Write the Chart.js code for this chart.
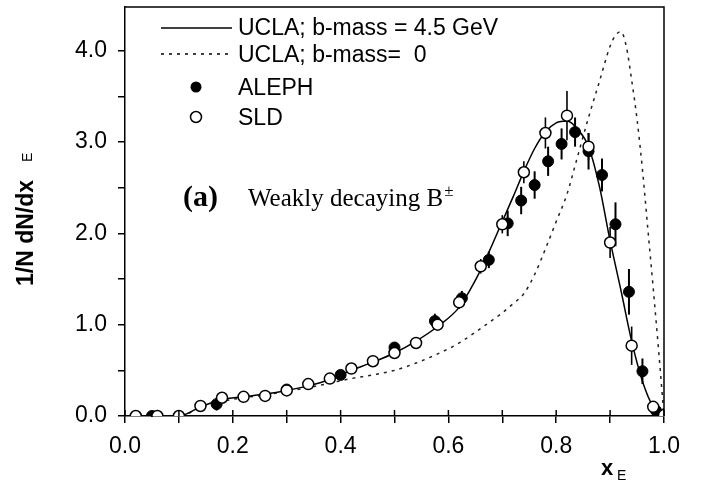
<!DOCTYPE html>
<html>
<head>
<meta charset="utf-8">
<script src="https://cdn.jsdelivr.net/npm/chart.js@4.4.1/dist/chart.umd.min.js"></script>
<style>
  body { margin: 0; background: #fff; }
</style>
</head>
<body>
<canvas id="xeChart" width="708" height="483"></canvas>
<script>
// Axis ticks and labels
const xTicks = [0.0, 0.1, 0.2, 0.3, 0.4, 0.5, 0.6, 0.7, 0.8, 0.9, 1.0];
const xTickLabels = ['0.0', '', '0.2', '', '0.4', '', '0.6', '', '0.8', '', '1.0'];
const yTicks = [0.0, 0.5, 1.0, 1.5, 2.0, 2.5, 3.0, 3.5, 4.0];
const yTickLabels = ['0.0', '', '1.0', '', '2.0', '', '3.0', '', '4.0'];

// Series names
const seriesNames = ['UCLA; b-mass = 4.5 GeV', 'UCLA; b-mass=  0', 'ALEPH', 'SLD'];

// UCLA, b-mass = 4.5 GeV (solid)
const uclaMassX = [0, 0.10, 0.14, 0.18, 0.22, 0.26, 0.30, 0.34, 0.38, 0.42, 0.46, 0.50, 0.54, 0.58, 0.62, 0.64, 0.66, 0.68, 0.70, 0.72, 0.74, 0.76, 0.78, 0.80, 0.82, 0.84, 0.86, 0.88, 0.90, 0.92, 0.94, 0.96, 0.98, 1.00];
const uclaMassY = [0, 0, 0.10, 0.18, 0.21, 0.24, 0.28, 0.33, 0.40, 0.50, 0.59, 0.69, 0.82, 0.98, 1.19, 1.38, 1.60, 1.86, 2.13, 2.40, 2.68, 2.93, 3.11, 3.21, 3.23, 3.14, 2.95, 2.52, 1.92, 1.38, 0.82, 0.38, 0.10, 0];

// UCLA, b-mass = 0 (dotted)
const uclaZeroX = [0, 0.10, 0.14, 0.18, 0.22, 0.26, 0.30, 0.34, 0.38, 0.42, 0.46, 0.50, 0.54, 0.58, 0.62, 0.66, 0.70, 0.72, 0.74, 0.76, 0.78, 0.80, 0.82, 0.84, 0.86, 0.88, 0.90, 0.91, 0.92, 0.93, 0.94, 0.95, 0.96, 0.97, 0.98, 0.99, 1.00];
const uclaZeroY = [0, 0, 0.09, 0.16, 0.20, 0.23, 0.27, 0.31, 0.36, 0.41, 0.45, 0.50, 0.58, 0.68, 0.80, 0.96, 1.13, 1.23, 1.34, 1.55, 1.83, 2.13, 2.43, 2.85, 3.27, 3.66, 4.05, 4.17, 4.21, 4.05, 3.68, 3.25, 2.70, 2.05, 1.40, 0.72, 0];

// ALEPH (filled circles)
const alephX = [0.05, 0.17, 0.30, 0.40, 0.50, 0.575, 0.625, 0.675, 0.71, 0.735, 0.76, 0.785, 0.81, 0.835, 0.86, 0.885, 0.91, 0.935, 0.96, 0.985];
const alephY = [0.0, 0.13, 0.29, 0.45, 0.75, 1.04, 1.29, 1.71, 2.11, 2.36, 2.53, 2.79, 2.98, 3.11, 2.90, 2.64, 2.10, 1.36, 0.49, 0.06];
const alephErr = [0.01, 0.07, 0.04, 0.04, 0.06, 0.08, 0.08, 0.09, 0.14, 0.15, 0.15, 0.16, 0.17, 0.16, 0.20, 0.18, 0.24, 0.25, 0.14, 0.05];

// SLD (open circles)
const sldX = [0.02, 0.06, 0.10, 0.14, 0.18, 0.22, 0.26, 0.30, 0.34, 0.38, 0.42, 0.46, 0.50, 0.54, 0.58, 0.62, 0.66, 0.70, 0.74, 0.78, 0.82, 0.86, 0.90, 0.94, 0.98, 1.00];
const sldY = [0.0, 0.0, 0.0, 0.11, 0.20, 0.21, 0.22, 0.28, 0.35, 0.41, 0.52, 0.60, 0.69, 0.80, 1.00, 1.245, 1.64, 2.10, 2.67, 3.10, 3.29, 2.95, 1.90, 0.77, 0.10, 0.01];
const sldErr = [0, 0, 0, 0.02, 0.02, 0.02, 0.02, 0.02, 0.02, 0.03, 0.03, 0.03, 0.04, 0.05, 0.06, 0.07, 0.08, 0.10, 0.12, 0.17, 0.27, 0.15, 0.17, 0.21, 0.05, 0];

function toPoints(xs, ys) {
    return xs.map((x, i) => ({ x: x, y: ys[i] }));
}

const sansFont = '"Liberation Sans", Arial, sans-serif';
const serifFont = '"Liberation Serif", "Times New Roman", serif';
const dotDash = [3, 5];

// Error bars, drawn under the markers
const errorBars = {
    id: 'errorBars',
    beforeDatasetsDraw(chart) {
        const { ctx, scales: { x, y } } = chart;
        ctx.save();
        ctx.strokeStyle = '#000';
        const sets = [[alephX, alephY, alephErr, 2], [sldX, sldY, sldErr, 1.6]];
        sets.forEach(([xs, ys, es, w]) => {
            ctx.lineWidth = w;
            xs.forEach((v, i) => {
                if (!es[i]) return;
                const px = x.getPixelForValue(v);
                ctx.beginPath();
                ctx.moveTo(px, y.getPixelForValue(ys[i] - es[i]));
                ctx.lineTo(px, y.getPixelForValue(ys[i] + es[i]));
                ctx.stroke();
            });
        });
        ctx.restore();
    }
};

// Frame, inner ticks, legend, labels
const decorations = {
    id: 'decorations',
    afterDraw(chart) {
        const { ctx, chartArea: a, scales: { x } } = chart;
        ctx.save();
        ctx.strokeStyle = '#000';
        ctx.lineWidth = 1.5;

        // top and right frame
        ctx.beginPath();
        ctx.moveTo(a.left, a.top);
        ctx.lineTo(a.right, a.top);
        ctx.lineTo(a.right, a.bottom);
        ctx.stroke();

        // x ticks cross the axis
        xTicks.forEach(v => {
            const px = x.getPixelForValue(v);
            ctx.beginPath();
            ctx.moveTo(px, a.bottom);
            ctx.lineTo(px, a.bottom - 6);
            ctx.stroke();
        });

        // legend
        const lx = a.left + 36, lw = 71, tx = a.left + 113;
        ctx.fillStyle = '#000';
        ctx.font = '23px ' + sansFont;
        ctx.textBaseline = 'middle';
        ctx.textAlign = 'left';

        ctx.lineWidth = 1.5;
        ctx.beginPath();
        ctx.moveTo(lx, a.top + 21);
        ctx.lineTo(lx + lw, a.top + 21);
        ctx.stroke();
        ctx.fillText(seriesNames[0], tx, a.top + 22);

        ctx.setLineDash(dotDash);
        ctx.beginPath();
        ctx.moveTo(lx, a.top + 47);
        ctx.lineTo(lx + lw, a.top + 47);
        ctx.stroke();
        ctx.setLineDash([]);
        ctx.fillText(seriesNames[1], tx, a.top + 49);

        ctx.beginPath();
        ctx.arc(lx + 35, a.top + 80, 5.5, 0, Math.PI * 2);
        ctx.fill();
        ctx.fillText(seriesNames[2], tx, a.top + 82);

        ctx.beginPath();
        ctx.arc(lx + 35, a.top + 110, 5.5, 0, Math.PI * 2);
        ctx.fillStyle = '#fff';
        ctx.fill();
        ctx.stroke();
        ctx.fillStyle = '#000';
        ctx.fillText(seriesNames[3], tx, a.top + 112);

        // panel annotation
        ctx.textBaseline = 'alphabetic';
        ctx.font = 'bold 30px ' + serifFont;
        ctx.fillText('(a)', a.left + 58, a.top + 199);
        ctx.font = '25px ' + serifFont;
        const wd = 'Weakly decaying B';
        ctx.fillText(wd, a.left + 123, a.top + 199);
        const wdw = ctx.measureText(wd).width;
        ctx.font = '17px ' + serifFont;
        ctx.fillText('\u00B1', a.left + 123 + wdw + 1, a.top + 189);

        // x axis title
        ctx.font = 'bold 22px ' + sansFont;
        ctx.fillText('x', 601, 475);
        ctx.font = '14px ' + sansFont;
        ctx.fillText('E', 617, 480);

        // y axis title
        ctx.translate(33, 286);
        ctx.rotate(-Math.PI / 2);
        ctx.font = 'bold 23px ' + sansFont;
        const yt = '1/N dN/dx';
        ctx.fillText(yt, 0, 0);
        const ytw = ctx.measureText(yt).width;
        ctx.font = '14px ' + sansFont;
        ctx.fillText('E', ytw + 18, -1);
        ctx.restore();
    }
};

// drop the label overflow margins so the plot box sits where it should
function fixBox(s, size) {
    if (s.isHorizontal()) { s.height = size; } else { s.width = size; }
    s.paddingTop = 0;
    s.paddingBottom = 0;
    s.paddingLeft = 0;
    s.paddingRight = 0;
}

const ctx = document.getElementById('xeChart').getContext('2d');
const xeChart = new Chart(ctx, {
    type: 'scatter',
    data: {
        datasets: [
            {
                label: seriesNames[3],
                data: toPoints(sldX, sldY),
                pointRadius: 5.5,
                pointBackgroundColor: '#fff',
                pointBorderColor: '#000',
                pointBorderWidth: 1.5,
                showLine: false
            },
            {
                label: seriesNames[2],
                data: toPoints(alephX, alephY),
                pointRadius: 5.5,
                pointBackgroundColor: '#000',
                pointBorderColor: '#000',
                pointBorderWidth: 1,
                showLine: false
            },
            {
                label: seriesNames[0],
                data: toPoints(uclaMassX, uclaMassY),
                showLine: true,
                borderColor: '#000',
                borderWidth: 1.5,
                pointRadius: 0,
                cubicInterpolationMode: 'monotone'
            },
            {
                label: seriesNames[1],
                data: toPoints(uclaZeroX, uclaZeroY),
                showLine: true,
                borderColor: '#222',
                borderWidth: 1.5,
                borderDash: dotDash,
                pointRadius: 0,
                cubicInterpolationMode: 'monotone'
            }
        ]
    },
    options: {
        responsive: false,
        animation: false,
        events: [],
        layout: { padding: { top: 3, right: 44, left: 0, bottom: 0 } },
        plugins: {
            legend: { display: false },
            tooltip: { enabled: false }
        },
        scales: {
            x: {
                type: 'linear',
                min: 0,
                max: 1,
                afterFit: s => fixBox(s, 67),
                afterBuildTicks: s => { s.ticks = xTicks.map(v => ({ value: v })); },
                ticks: {
                    autoSkip: false,
                    maxRotation: 0,
                    padding: 10,
                    color: '#000',
                    font: { family: sansFont, size: 23 },
                    callback: (v, i) => xTickLabels[i]
                },
                grid: { drawOnChartArea: false, drawTicks: true, tickLength: 7, color: '#000', lineWidth: 1.5 },
                border: { display: true, color: '#000', width: 1.5 }
            },
            y: {
                type: 'linear',
                min: 0,
                max: 4.48,
                afterFit: s => fixBox(s, 125),
                afterBuildTicks: s => { s.ticks = yTicks.map(v => ({ value: v })); },
                ticks: {
                    autoSkip: false,
                    padding: 11,
                    color: '#000',
                    font: { family: sansFont, size: 23 },
                    callback: (v, i) => yTickLabels[i]
                },
                grid: { drawOnChartArea: false, drawTicks: true, tickLength: 7, color: '#000', lineWidth: 1.5 },
                border: { display: true, color: '#000', width: 1.5 }
            }
        }
    },
    plugins: [errorBars, decorations]
});
</script>
</body>
</html>
